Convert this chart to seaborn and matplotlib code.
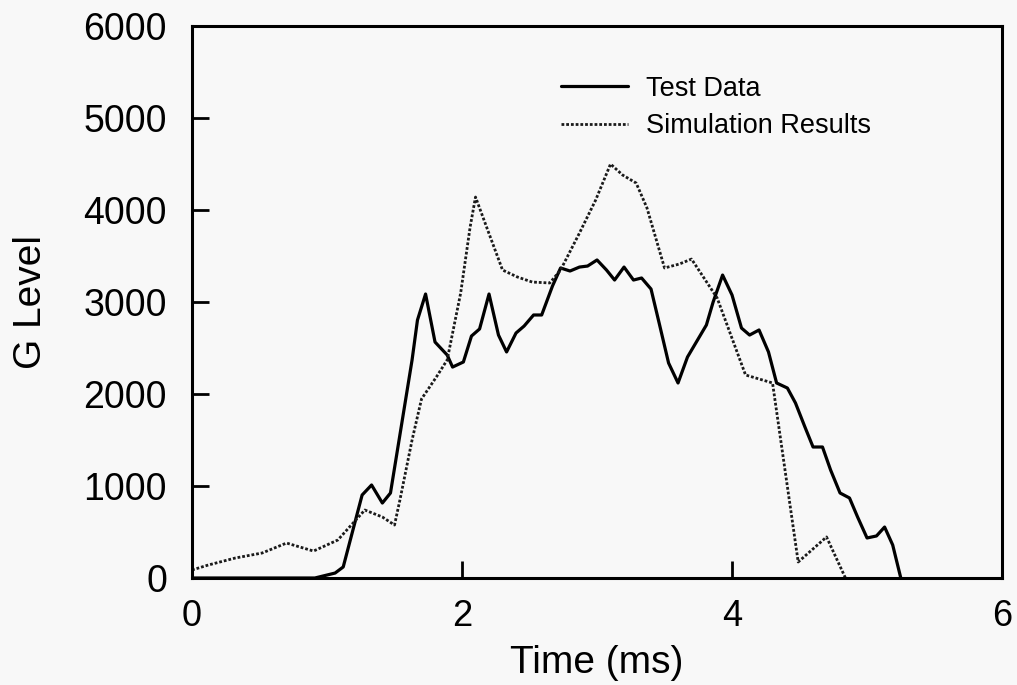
import pandas as pd
import matplotlib
matplotlib.use("Agg")
import matplotlib.pyplot as plt
import seaborn as sns

# test data (solid line), time in ms / G level
test_time = [0.00, 0.91, 1.06, 1.12, 1.26, 1.33, 1.41, 1.47, 1.63, 1.67, 1.73, 1.80,
             1.89, 1.93, 2.01, 2.07, 2.13, 2.20, 2.27, 2.33, 2.40, 2.46, 2.53, 2.59,
             2.67, 2.73, 2.80, 2.87, 2.93, 3.00, 3.07, 3.13, 3.20, 3.27, 3.33, 3.40,
             3.46, 3.53, 3.60, 3.67, 3.74, 3.81, 3.86, 3.93, 4.00, 4.07, 4.13, 4.20,
             4.27, 4.33, 4.41, 4.47, 4.54, 4.60, 4.67, 4.73, 4.80, 4.87, 4.93, 5.00,
             5.07, 5.13, 5.19, 5.25]
test_g = [0, 0, 54, 120, 902, 1011, 815, 924, 2370, 2804, 3087, 2565,
          2424, 2293, 2348, 2630, 2707, 3087, 2641, 2457, 2663, 2739, 2859, 2859,
          3174, 3370, 3337, 3380, 3391, 3457, 3348, 3239, 3380, 3239, 3261, 3141,
          2772, 2337, 2120, 2402, 2576, 2750, 3000, 3293, 3076, 2717, 2641, 2696,
          2457, 2120, 2065, 1902, 1641, 1424, 1424, 1174, 924, 870, 663, 435,
          457, 554, 359, 0]

# simulation results (dotted line)
sim_time = [0.00, 0.12, 0.32, 0.52, 0.70, 0.90, 1.08, 1.28, 1.41, 1.50, 1.54, 1.63,
            1.70, 1.81, 1.89, 1.99, 2.06, 2.10, 2.19, 2.30, 2.41, 2.52, 2.65, 2.73,
            2.87, 2.99, 3.10, 3.19, 3.29, 3.37, 3.50, 3.61, 3.70, 3.89, 4.10, 4.30,
            4.49, 4.70, 4.84]
sim_g = [87, 141, 217, 272, 380, 293, 413, 739, 663, 576, 848, 1500,
         1946, 2185, 2370, 3098, 3815, 4141, 3783, 3348, 3272, 3217, 3207, 3348,
         3750, 4109, 4500, 4380, 4293, 4022, 3370, 3413, 3467, 3043, 2207, 2120,
         174, 446, 0]

x_ticks = [0, 2, 4, 6]
y_ticks = [0, 1000, 2000, 3000, 4000, 5000, 6000]

df_test = pd.DataFrame({'time': test_time, 'g': test_g})
df_sim = pd.DataFrame({'time': sim_time, 'g': sim_g})

sns.set_theme(style="ticks")
plt.rcParams['font.family'] = ['Liberation Sans', 'DejaVu Sans']
plt.rcParams['text.color'] = 'black'
plt.rcParams['axes.labelcolor'] = 'black'
plt.rcParams['xtick.labelcolor'] = 'black'
plt.rcParams['ytick.labelcolor'] = 'black'

fig = plt.figure(figsize=(10.17, 6.85), dpi=100, facecolor='#f8f8f8')
ax = fig.add_axes([0.1888, 0.1562, 0.7965, 0.8058])
ax.set_facecolor('#f8f8f8')

sns.lineplot(data=df_test, x='time', y='g', sort=False, ax=ax,
             color='black', linewidth=2.3, label='Test Data')
sns.lineplot(data=df_sim, x='time', y='g', sort=False, ax=ax,
             color='#1a1a1a', linewidth=2.0, linestyle=(0, (1, 0.7)),
             label='Simulation Results')

ax.set_xlim(0, 6)
ax.set_ylim(0, 6000)
ax.set_xticks(x_ticks)
ax.set_yticks(y_ticks)
ax.set_xticklabels([str(v) for v in x_ticks])
ax.set_yticklabels([str(v) for v in y_ticks])

for s in ax.spines.values():
    s.set_visible(True)
    s.set_linewidth(2.2)
    s.set_color('black')

ax.tick_params(axis='both', direction='in', length=12, width=2.0, color='black',
               top=False, right=False)
ax.tick_params(axis='x', labelsize=26, pad=15)
ax.tick_params(axis='y', labelsize=27, pad=18)

ax.set_xlabel('Time (ms)', fontsize=28, labelpad=8)
ax.set_ylabel('G Level', fontsize=28, labelpad=25)

leg = ax.legend(loc='upper left', bbox_to_anchor=(0.455, 0.91), frameon=False,
                fontsize=19.5, handlelength=2.5, handletextpad=0.65,
                labelspacing=0.42, borderpad=0, borderaxespad=0)

plt.savefig('out.png', dpi=100, facecolor=fig.get_facecolor())
